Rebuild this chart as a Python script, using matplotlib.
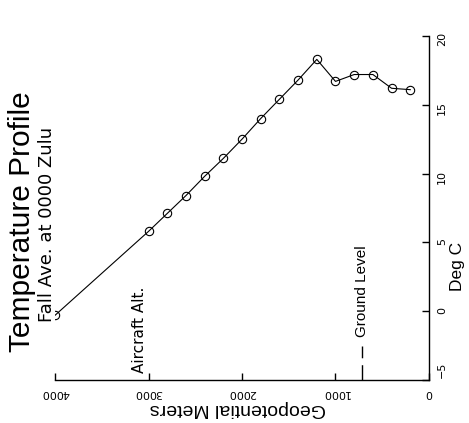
import matplotlib
matplotlib.use('Agg')
import matplotlib.pyplot as plt
from matplotlib.transforms import ScaledTranslation

# data
alt_m = [4000, 3000, 2800, 2600, 2400, 2200, 2000, 1800, 1600, 1400, 1200, 1000, 800, 600, 400, 200]
temp_c = [-0.3, 5.8, 7.1, 8.4, 9.8, 11.1, 12.5, 14.0, 15.4, 16.8, 18.3, 16.7, 17.2, 17.2, 16.2, 16.1]
x_ticks = [4000, 3000, 2000, 1000, 0]
y_ticks = [-5, 0, 5, 10, 15, 20]
ground_level_m = 720
aircraft_alt_m = 3000

plt.rcParams['font.family'] = ['Liberation Sans', 'DejaVu Sans']

fig = plt.figure(figsize=(4.69, 4.23), dpi=100)
ax = fig.add_axes([0.1173, 0.1017, 0.7974, 0.8132])

ax.plot(alt_m, temp_c, color='black', lw=0.8, marker='o', ms=6,
        mfc='none', mec='black', mew=0.8)

ax.set_xlim(4000, 0)
ax.set_ylim(-5, 20)

# only bottom and right axes
ax.spines['top'].set_visible(False)
ax.spines['left'].set_visible(False)
ax.spines['bottom'].set_linewidth(1.0)
ax.spines['right'].set_linewidth(1.0)
ax.yaxis.tick_right()

ax.set_xticks(x_ticks)
ax.set_yticks(y_ticks)
ax.tick_params(direction='in', length=5, width=1, labelsize=8)
ax.tick_params(axis='x', labelrotation=180, pad=6)
ax.tick_params(axis='y', labelrotation=90, pad=6)
for lbl in ax.get_xticklabels() + ax.get_yticklabels():
    lbl.set_fontfamily('DejaVu Sans')
# the -5 label sits a little above its tick in the original
low = ax.get_yticklabels()[0]
low.set_transform(low.get_transform() + ScaledTranslation(0, 14 / 100, fig.dpi_scale_trans))

ax.set_xlabel('Geopotential Meters', fontsize=14, rotation=180, ha='center', va='center')
ax.xaxis.set_label_coords(0.49, -0.083)
ax.yaxis.set_label_position('right')
ax.set_ylabel('Deg C', fontsize=12.5, rotation=90, ha='center', va='center')
ax.yaxis.set_label_coords(1.075, 0.33)

# annotations
ax.text(aircraft_alt_m + 20, -4.5, 'Aircraft Alt.', fontsize=11, rotation=90,
        ha='right', va='bottom', family='DejaVu Sans')
ax.axvline(ground_level_m, 0, 0.1, color='black', lw=1, ls=(0, (11, 5)))
ax.text(ground_level_m, -1.9, 'Ground Level', fontsize=11, rotation=90,
        ha='center', va='bottom')

fig.text(22 / 469, 1 - 352 / 423, 'Temperature Profile', fontsize=21.5, rotation=90,
         ha='center', va='bottom')
fig.text(47 / 469, 1 - 322 / 423, 'Fall Ave. at 0000 Zulu', fontsize=13, rotation=90,
         ha='center', va='bottom', family='DejaVu Sans')

fig.savefig('out.png', dpi=100)
